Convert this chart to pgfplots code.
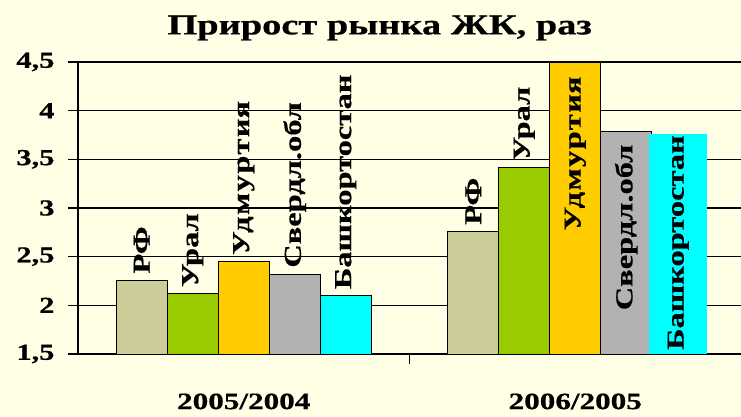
\documentclass[border=0pt]{standalone}
\usepackage{fontspec}
\setmainfont{Liberation Serif}[FakeStretch=1.33, BoldFeatures={FakeBold=0.6}]
\usepackage{pgfplots}
\pgfplotsset{compat=1.18}
\usetikzlibrary{backgrounds,calc}
\definecolor{bg}{HTML}{FFFFE6}
\definecolor{cRF}{HTML}{CCCC99}
\definecolor{cUr}{HTML}{99CC00}
\definecolor{cUd}{HTML}{FFCC00}
\definecolor{cSv}{HTML}{B2B2B2}
\definecolor{cBa}{HTML}{00FFFF}
\newcommand{\udm}{{\addfontfeature{LetterSpace=6}Удмурти\kern0ptя}}
\begin{document}
\begin{tikzpicture}
\begin{axis}[
  name=ax,
  scale only axis, width=663bp, height=292bp,
  xmin=-0.5, xmax=1.5, ymin=1.5, ymax=4.5,
  ytick={1.5,2,...,4.5},
  axis y line*=left, axis x line*=bottom,
  axis line style={line width=1.8pt, black},
  ymajorgrids, grid style={line width=1.3pt, black},
  tick align=outside, major tick length=10bp,
  tick style={line width=1.3pt, black},
  xtick={0.5}, xticklabels={},
  extra x ticks={0,1}, extra x tick labels={2005/2004,2006/2005},
  extra x tick style={major tick length=0pt, grid=none,
     xticklabel style={font=\fontsize{23.5}{28}\selectfont\bfseries, yshift=-36bp}},
  yticklabel style={font=\fontsize{23}{27}\selectfont\bfseries, xshift=-10bp},
  /pgf/number format/assume math mode=true,
  /pgf/number format/use comma,
  ybar, bar width=51bp,
  clip=false,
  title={\fontsize{29}{34}\selectfont\bfseries Прирост рынка ЖК, раз},
  title style={at={(axis description cs:0.455,1)}, anchor=south, yshift=12bp},
  nodes near coords style={font=\fontsize{24.5}{28}\selectfont\bfseries, rotate=90, black},
]
% group 1: labels above
\addplot[fill=cRF, draw=black, line width=1pt, bar shift=-102bp, nodes near coords={РФ}, every node near coord/.append style={anchor=west, inner sep=6bp}] coordinates {(0,2.26)};
\addplot[fill=cUr, draw=black, line width=1pt, bar shift=-51bp, nodes near coords={Урал}, every node near coord/.append style={anchor=west, inner sep=6bp}] coordinates {(0,2.12)};
\addplot[fill=cUd, draw=black, line width=1pt, bar shift=0bp, nodes near coords={\udm}, every node near coord/.append style={anchor=west, inner sep=6bp}] coordinates {(0,2.45)};
\addplot[fill=cSv, draw=black, line width=1pt, bar shift=51bp, nodes near coords={Свердл.обл}, every node near coord/.append style={anchor=west, inner sep=6bp}] coordinates {(0,2.32)};
\addplot[fill=cBa, draw=black, line width=1pt, bar shift=102bp, nodes near coords={Башкортостан}, every node near coord/.append style={anchor=west, inner sep=6bp}] coordinates {(0,2.10)};
% group 2
\addplot[fill=cRF, draw=black, line width=1pt, bar shift=-102bp, nodes near coords={РФ}, every node near coord/.append style={anchor=west, inner sep=6bp}] coordinates {(1,2.76)};
\addplot[fill=cUr, draw=black, line width=1pt, bar shift=-51bp, nodes near coords={Урал}, every node near coord/.append style={anchor=west, inner sep=6bp}] coordinates {(1,3.42)};
\addplot[fill=cUd, draw=black, line width=1pt, bar shift=0bp, nodes near coords={\udm}, every node near coord/.append style={anchor=east, inner sep=13bp}] coordinates {(1,4.49)};
\addplot[fill=cSv, draw=black, line width=1pt, bar shift=51bp, nodes near coords={Свердл.обл}, every node near coord/.append style={anchor=east, inner sep=13bp}] coordinates {(1,3.79)};
\addplot[fill=cBa, draw=none, bar width=58bp, bar shift=103bp, nodes near coords={Башкортостан}, every node near coord/.append style={anchor=east, inner sep=1bp}] coordinates {(1,3.76)};
\end{axis}
\begin{scope}[on background layer]
\fill[bg] ($(ax.south west)+(-78bp,-63bp)$) rectangle ($(ax.north east)+(0,62bp)$);
\end{scope}
\pgfresetboundingbox
\useasboundingbox ($(ax.south west)+(-78bp,-63bp)$) rectangle ($(ax.north east)+(0,62bp)$);
\end{tikzpicture}
\end{document}
